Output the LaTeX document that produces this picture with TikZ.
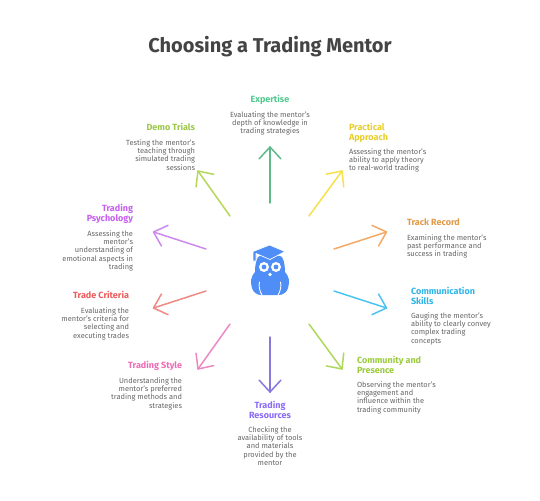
\documentclass[tikz,border=0pt]{standalone}
\usepackage{fontspec}
\setmainfont{Fira Sans}
\usetikzlibrary{calc}
\definecolor{owl}{HTML}{4F8EF7}
\definecolor{bodytxt}{HTML}{666666}
\definecolor{titletxt}{HTML}{444444}
\definecolor{HExp}{HTML}{4FCB8F}\definecolor{AExp}{HTML}{5DBB8A}
\definecolor{HPra}{HTML}{E8CE2C}\definecolor{APra}{HTML}{F7E14A}
\definecolor{HTra}{HTML}{E09A4A}\definecolor{ATra}{HTML}{F4AA66}
\definecolor{HCom}{HTML}{2FB5E8}\definecolor{ACom}{HTML}{4CC4F2}
\definecolor{HCmy}{HTML}{9CCB3E}\definecolor{ACmy}{HTML}{AED85A}
\definecolor{HRes}{HTML}{8B6CF6}\definecolor{ARes}{HTML}{8877DD}
\definecolor{HSty}{HTML}{EE6BB5}\definecolor{ASty}{HTML}{EE88C4}
\definecolor{HCri}{HTML}{EF5B5B}\definecolor{ACri}{HTML}{F08A85}
\definecolor{HPsy}{HTML}{C560EE}\definecolor{APsy}{HTML}{CC8AEE}
\definecolor{HDem}{HTML}{9CC84A}\definecolor{ADem}{HTML}{B5D85A}
\tikzset{x=1pt,y=-1pt,
  conn/.style={line width=1.5pt,line cap=round,line join=round},
  lbl/.style={inner sep=0pt,outer sep=0pt,execute at begin node={\rule{0pt}{6pt}\ignorespaces}},
  head/.style={lbl,font=\fontsize{9}{9.6}\selectfont\bfseries},
  body/.style={lbl,text=bodytxt,font=\fontsize{7.45}{8.25}\selectfont},
  L/.style={anchor=north west,align=left},
  R/.style={anchor=north east,align=right},
  C/.style={anchor=north,align=center}}
\begin{document}
\begin{tikzpicture}
\useasboundingbox (0,0) rectangle (540,500);
\fill[white] (0,0) rectangle (540,500);
\node[font=\fontsize{20}{22}\selectfont\bfseries,text=titletxt,inner sep=0pt] (title) at (270,47) {Choosing a Trading Mentor};

% headings and descriptions
\node[head,C,text=HExp] (h1) at (270,95.5) {Expertise};
\node[body,C] (b1) at (270,111.5) {Evaluating the mentor's\\depth of knowledge in\\trading strategies};
\node[head,L,text=HPra] (h2) at (349,123.5) {Practical\\Approach};
\node[body,L] (b2) at (349,148.5) {Assessing the mentor's\\ability to apply theory\\to real-world trading};
\node[head,L,text=HTra] (h3) at (407,218.5) {Track Record};
\node[body,L] (b3) at (407,234.5) {Examining the mentor's\\past performance and\\success in trading};
\node[head,L,text=HCom] (h4) at (411,287.5) {Communication\\Skills};
\node[body,L] (b4) at (411,312.5) {Gauging the mentor's\\ability to clearly convey\\complex trading\\concepts};
\node[head,L,text=HCmy] (h5) at (357,356.5) {Community and\\Presence};
\node[body,L] (b5) at (357,381.5) {Observing the mentor's\\engagement and\\influence within the\\trading community};
\node[head,C,text=HRes] (h6) at (270,401.5) {Trading\\Resources};
\node[body,C] (b6) at (270,426.5) {Checking the\\availability of tools\\and materials\\provided by the\\mentor};
\node[head,R,text=HSty] (h7) at (182,361.5) {Trading Style};
\node[body,R] (b7) at (182,377.5) {Understanding the\\mentor's preferred\\trading methods and\\strategies};
\node[head,R,text=HCri] (h8) at (129,291.5) {Trade Criteria};
\node[body,R] (b8) at (129,307.5) {Evaluating the\\mentor's criteria for\\selecting and\\executing trades};
\node[head,R,text=HPsy] (h9) at (133,204.5) {Trading\\Psychology};
\node[body,R] (b9) at (133,230.5) {Assessing the\\mentor's\\understanding of\\emotional aspects in\\trading};
\node[head,R,text=HDem] (h10) at (195,123.5) {Demo Trials};
\node[body,R] (b10) at (195,139.5) {Testing the mentor's\\teaching through\\simulated trading\\sessions};

% connector ends
\coordinate (s1) at (270,203);  \coordinate (t1) at (270,147);
\coordinate (s2) at (309,216);  \coordinate (t2) at (342,171);
\coordinate (s3) at (334,249);  \coordinate (t3) at (386.5,232);
\coordinate (s4) at (334,291);  \coordinate (t4) at (386.5,308);
\coordinate (s5) at (309,324);  \coordinate (t5) at (342,369);
\coordinate (s6) at (270,337);  \coordinate (t6) at (270,392);
\coordinate (s7) at (230,324);  \coordinate (t7) at (198,369);
\coordinate (s8) at (206,291);  \coordinate (t8) at (153.5,308);
\coordinate (s9) at (206,249);  \coordinate (t9) at (153.5,232);
\coordinate (s10) at (230,216); \coordinate (t10) at (198,171);
\foreach \i/\c in {1/AExp,2/APra,3/ATra,4/ACom,5/ACmy,6/ARes,7/ASty,8/ACri,9/APsy,10/ADem}{
  \draw[conn,color=\c] (s\i) -- (t\i);
  \draw[conn,color=\c] ($(t\i)!16pt!42.5:(s\i)$) -- (t\i) -- ($(t\i)!16pt!-42.5:(s\i)$);
}

% owl
\fill[owl] (258,257) .. controls (262,254) and (278,254) .. (282,257)
  .. controls (285,262) and (285,270) .. (285,272)
  .. controls (289,276) and (290,282) .. (288,288)
  .. controls (287,292) and (283,295) .. (279,295)
  -- (261,295)
  .. controls (257,295) and (253,292) .. (252,288)
  .. controls (250,282) and (251,276) .. (255,272)
  .. controls (255,270) and (255,262) .. (258,257) -- cycle;
\fill[owl,draw=white,line width=.7pt,line join=round] (269.5,245) -- (285,251.5) -- (270,259.5) -- (256,253.5) -- (256,261) -- (253,261) -- (253,251.5) -- cycle;
\foreach \ex in {264,276}{
  \fill[white] (\ex,267) circle (5);
  \fill[owl] (\ex,267) circle (2.4);
}
\fill[white] (270,274.5) circle (1.9);
\draw[white,line width=.9pt,line cap=round] (259.5,282) .. controls (258.5,286) and (259.5,291) .. (262,295);
\draw[white,line width=.9pt,line cap=round] (280.5,282) .. controls (281.5,286) and (280.5,291) .. (278,295);
\end{tikzpicture}
\end{document}
